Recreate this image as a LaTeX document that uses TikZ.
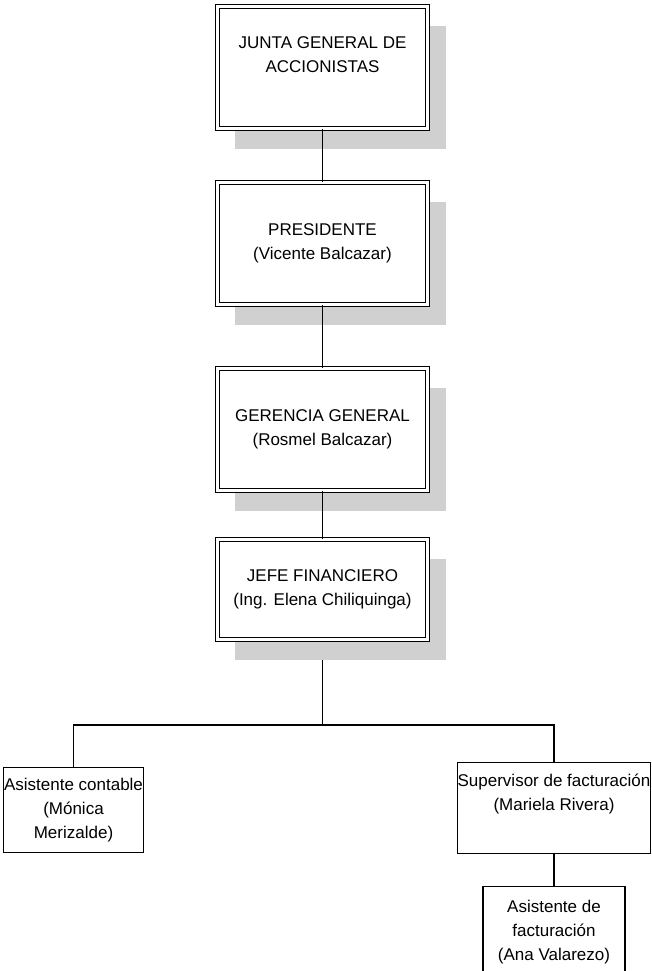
\documentclass[tikz,border=0pt]{standalone}
\usepackage{fontspec}
\setmainfont{Liberation Sans}
\usetikzlibrary{shadows,backgrounds}

\definecolor{shadowgray}{RGB}{208,208,208}

\tikzset{
  mainbox/.style={draw, double, double distance=2.6pt, line width=1.1pt, fill=white,
    minimum width=210.2pt, minimum height=122.2pt, inner sep=0pt, align=center,
    font=\fontsize{17}{24}\selectfont,
    drop shadow={shadow xshift=18pt, shadow yshift=-20pt, fill=shadowgray, opacity=1}},
  subbox/.style={draw, line width=1.2pt, fill=white, inner sep=0pt, align=center,
    font=\fontsize{17}{24}\selectfont},
  conn/.style={line width=1.2pt}
}

\begin{document}
\begin{tikzpicture}[node distance=176pt]
      \useasboundingbox (0,0) rectangle (651pt,-971pt);
      \node[mainbox] (junta) at (322.5pt,-67.5pt) {JUNTA GENERAL DE\\ACCIONISTAS\\[-6pt]\strut};
      \node[mainbox,below of=junta] (presidente) {PRESIDENTE\\(Vicente Balcazar)};
      \node[mainbox,below of=presidente,yshift=-10pt] (gerencia) {GERENCIA GENERAL\\(Rosmel Balcazar)};
      \node[mainbox,below of=gerencia,yshift=16pt,minimum height=100.2pt] (jefe) {JEFE FINANCIERO\\(Ing. Elena Chiliquinga)};
      \coordinate[below of=jefe,yshift=40.5pt] (bar);

      \node[subbox,minimum width=140pt,minimum height=85pt] (contable) at (73.5pt,-810pt) {Asistente contable\\(Mónica\\Merizalde)};
      \node[subbox,minimum width=193pt,minimum height=91pt] (supervisor) at (554pt,-808pt) {Supervisor de facturación\\(Mariela Rivera)\\\strut};
      \node[subbox,below of=supervisor,yshift=52pt,minimum width=142pt,minimum height=91pt] (asistente) {Asistente de\\facturación\\(Ana Valarezo)};

      \draw[conn] (junta) -- (presidente);
      \draw[conn] (presidente) -- (gerencia);
      \draw[conn] (gerencia) -- (jefe);
      \begin{pgfonlayer}{background}
        \draw[conn] (jefe) -- (bar);
      \end{pgfonlayer}
      \draw[conn] (bar) -| (contable);
      \draw[conn] (bar) -| (supervisor);
      \draw[conn] (supervisor) -- (asistente);
    \end{tikzpicture}
\end{document}
